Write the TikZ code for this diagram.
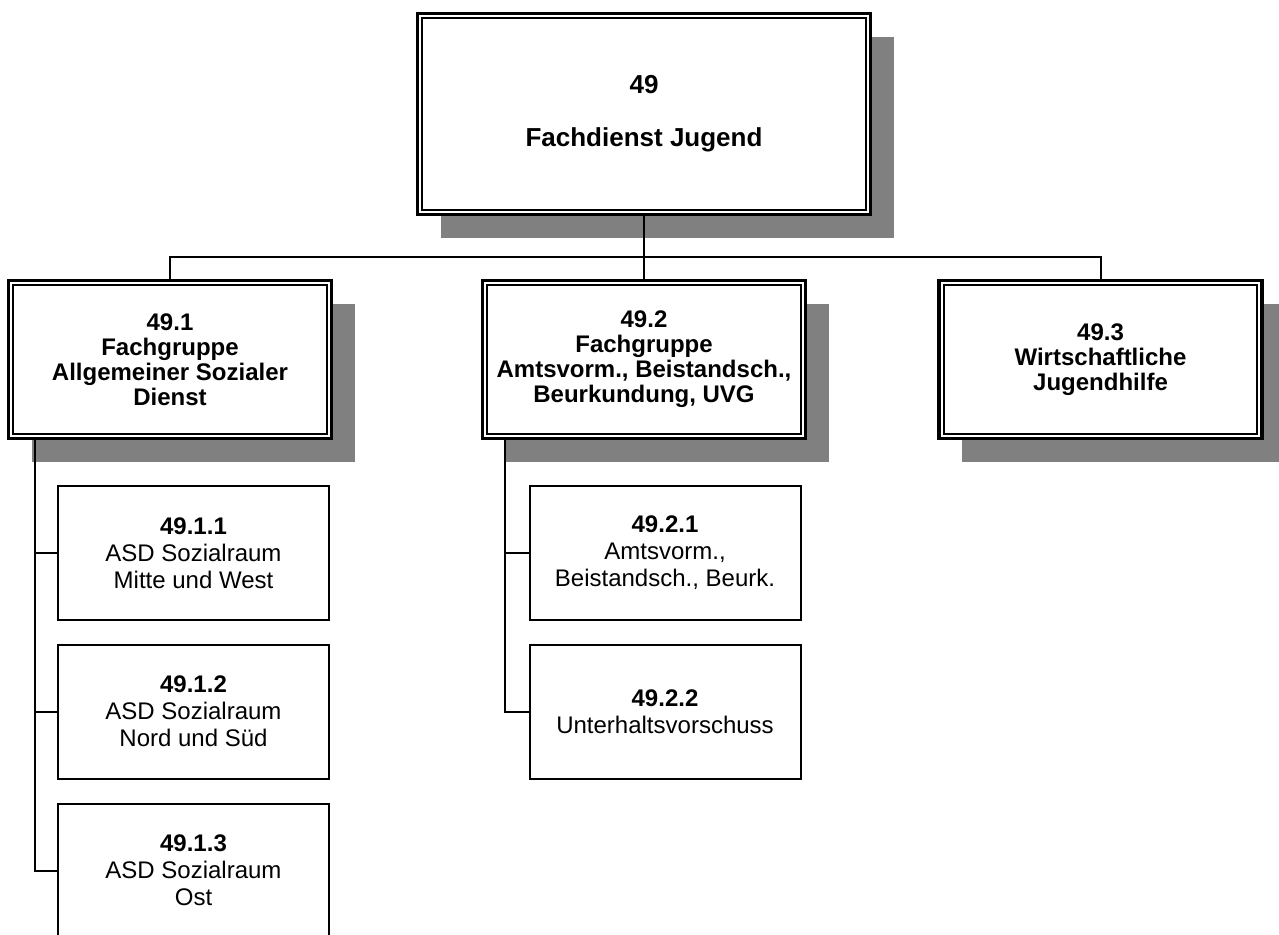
\documentclass[tikz,border=0pt]{standalone}
\usepackage{fontspec}
\setmainfont{Liberation Sans}
\usetikzlibrary{shadows}

\begin{document}
\begin{tikzpicture}[x=0.5pt,y=-0.5pt]
\tikzset{head/.style={draw,line width=1.6pt,fill=white,align=center,inner sep=1pt,
  drop shadow={shadow xshift=11.5pt,shadow yshift=-11.5pt,fill=black!50,opacity=1}}}
\tikzset{chief/.style={head,minimum width=226.5pt,minimum height=100.5pt,font=\fontsize{13}{15}\selectfont\bfseries}}
\tikzset{grp/.style={head,minimum width=161.5pt,minimum height=79pt,font=\fontsize{12}{12.5}\selectfont\bfseries}}
\tikzset{unit/.style={draw,line width=1pt,fill=white,align=center,inner sep=1pt,
  minimum width=135.5pt,minimum height=67pt,font=\fontsize{12}{13.5}\selectfont}}
\tikzset{link/.style={line width=1pt}}

  \useasboundingbox (0,0) rectangle (1279,934);
  \clip (0,0) rectangle (1279,934);

  % Fachdienst
  \node[chief] (fd) at (644,114) {49\\[11.5pt]Fachdienst Jugend};

  % Fachgruppen
  \node[grp] (g1) at (170,359.5)  {49.1\\Fachgruppe\\Allgemeiner Sozialer\\Dienst};
  \node[grp] (g2) at (644,359.5)  {49.2\\Fachgruppe\\Amtsvorm., Beistandsch.,\\Beurkundung, UVG};
  \node[grp] (g3) at (1100.5,359.5) {49.3\\Wirtschaftliche\\Jugendhilfe};

  \foreach \n in {fd,g1,g2,g3}
    \draw[line width=1pt] ([shift={(3.2pt,-3.2pt)}]\n.north west) rectangle ([shift={(-3.2pt,3.2pt)}]\n.south east);

  % Sachgebiete
  \node[unit] (s11) at (193.5,553)   {\textbf{49.1.1}\\ASD Sozialraum\\Mitte und West};
  \node[unit] (s12) at (193.5,711.5) {\textbf{49.1.2}\\ASD Sozialraum\\Nord und Süd};
  \node[unit] (s13) at (193.5,870.5) {\textbf{49.1.3}\\ASD Sozialraum\\Ost};
  \node[unit] (s21) at (665,553)     {\textbf{49.2.1}\\Amtsvorm.,\\Beistandsch., Beurk.};
  \node[unit] (s22) at (665,711.5)   {\textbf{49.2.2}\\Unterhaltsvorschuss};

  \coordinate (bus) at (644,257);
  \coordinate (t1) at ([xshift=14pt]g1.south west);
  \coordinate (t2) at ([xshift=12pt]g2.south west);

  \draw[link] (fd.south) -- (g2.north);
  \draw[link] (g1.north) |- (bus) -| (g3.north);
  \draw[link] (t1) |- (s13.west);
  \draw[link] (s11.west) -- (s11.west -| t1);
  \draw[link] (s12.west) -- (s12.west -| t1);
  \draw[link] (t2) |- (s22.west);
  \draw[link] (s21.west) -- (s21.west -| t2);
\end{tikzpicture}
\end{document}
